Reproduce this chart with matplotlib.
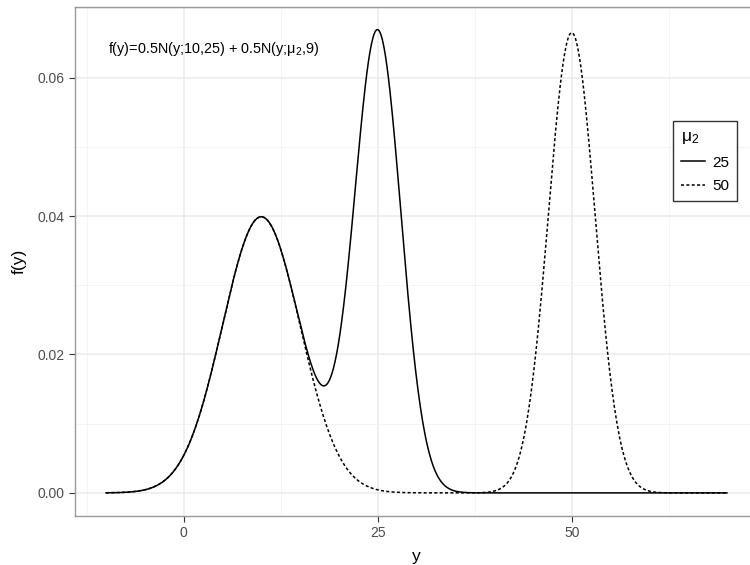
import numpy as np
import matplotlib
matplotlib.use('Agg')
import matplotlib.pyplot as plt
from matplotlib.ticker import MultipleLocator

# mixture components
w1, m1, v1 = 0.5, 10, 25
w2, v2 = 0.5, 9
mu2_values = [25, 50]
y_range = [-10, 70]
styles = ['-', (0, (2, 1.5))]

plt.rcParams['font.family'] = ['Liberation Sans', 'DejaVu Sans']
plt.rcParams['mathtext.default'] = 'regular'


def norm_pdf(y, m, v):
    return np.exp(-(y - m) ** 2 / (2 * v)) / np.sqrt(2 * np.pi * v)


if __name__ == '__main__':
    dpi = 100
    fig = plt.figure(figsize=(750 / dpi, 565 / dpi), dpi=dpi)
    # panel is clipped on the right in the reference
    ax = fig.add_axes([75 / 750, 1 - 516 / 565, 683 / 750, 509 / 565])

    y = np.linspace(y_range[0], y_range[1], 801)
    for mu2, ls in zip(mu2_values, styles):
        f = w1 * norm_pdf(y, m1, v1) + w2 * norm_pdf(y, mu2, v2)
        ax.plot(y, f, color='black', linestyle=ls, linewidth=1.1, label=str(mu2))

    ax.set_xlim(-14, 74)
    ax.set_ylim(-0.00334, 0.0702)
    ax.xaxis.set_major_locator(MultipleLocator(25))
    ax.xaxis.set_minor_locator(MultipleLocator(12.5))
    ax.yaxis.set_major_locator(MultipleLocator(0.02))
    ax.yaxis.set_minor_locator(MultipleLocator(0.01))
    ax.set_yticks([0, 0.02, 0.04, 0.06])
    ax.set_yticklabels(['0.00', '0.02', '0.04', '0.06'])

    ax.grid(which='major', color='#EBEBEB', linewidth=1.1)
    ax.grid(which='minor', color='#F3F3F3', linewidth=0.6)
    ax.set_axisbelow(True)
    ax.tick_params(which='major', colors='#333333', labelcolor='#4D4D4D',
                   labelsize=10, length=4, width=0.8)
    ax.tick_params(which='minor', length=0)
    for s in ax.spines.values():
        s.set_color('#9A9A9A')
        s.set_linewidth(1.0)

    ax.set_xlabel('y', fontsize=12.5, labelpad=6)
    ax.set_ylabel('f(y)', fontsize=12.5, labelpad=8)

    ax.text(108 / 750, 1 - 49 / 565, 'f(y)=0.5N(y;10,25) + 0.5N(y;\u03bc$_2$,9)',
            transform=fig.transFigure, fontsize=10.4, va='center', ha='left')

    leg = ax.legend(title='\u03bc$_2$', loc='upper left',
                    bbox_to_anchor=(673 / 750, 1 - 121 / 565),
                    bbox_transform=fig.transFigure, borderaxespad=0,
                    fontsize=11, title_fontsize=12.5, frameon=True,
                    fancybox=False, handlelength=1.6, handletextpad=0.5,
                    borderpad=0.5, labelspacing=0.65, alignment='left')
    leg.get_frame().set_edgecolor('black')
    leg.get_frame().set_linewidth(1.0)

    plt.savefig('out.png', dpi=dpi)
